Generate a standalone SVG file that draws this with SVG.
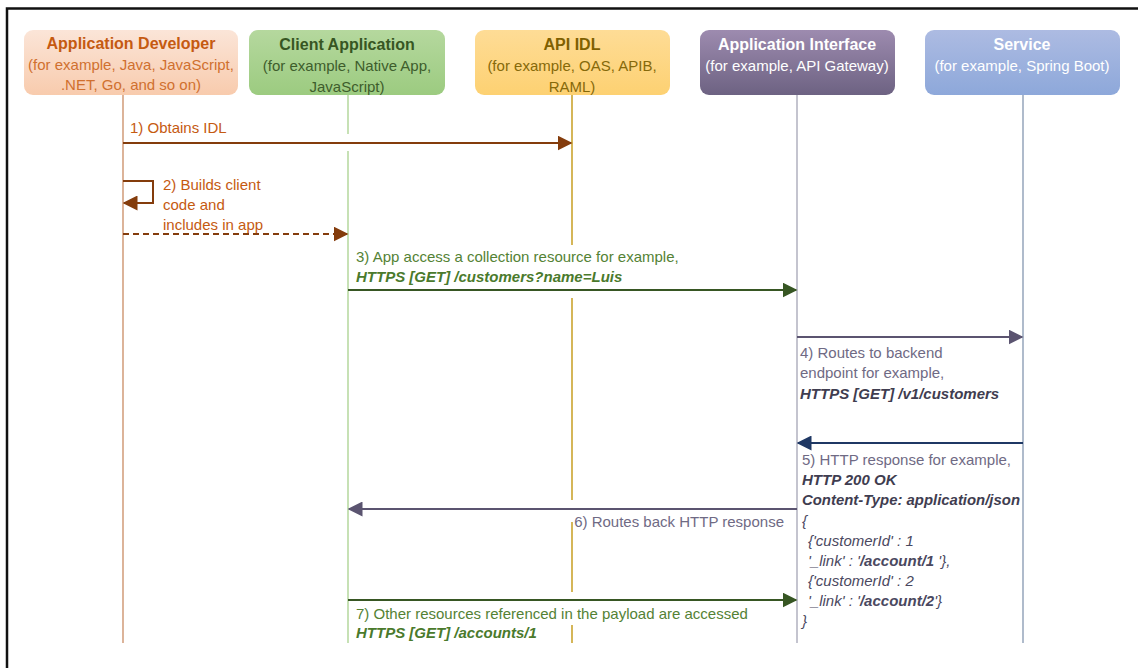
<svg xmlns="http://www.w3.org/2000/svg" width="1138" height="668" viewBox="0 0 1138 668">
<style>
text{font-family:"Liberation Sans",Arial,sans-serif;font-size:15px}
.t{font-weight:bold;font-size:16px}
.bi{font-weight:bold;font-style:italic}
.it{font-style:italic}
.ll{fill:none;stroke-width:1.3}
.ar{fill:none;stroke-width:2}
</style>
<defs>
<linearGradient id="gDev" x1="0" y1="0" x2="0" y2="1"><stop offset="0" stop-color="#fbe5d8"/><stop offset="1" stop-color="#f8cbad"/></linearGradient>
<linearGradient id="gCli" x1="0" y1="0" x2="0" y2="1"><stop offset="0" stop-color="#b5d89e"/><stop offset="1" stop-color="#9ccb80"/></linearGradient>
<linearGradient id="gIdl" x1="0" y1="0" x2="0" y2="1"><stop offset="0" stop-color="#fedc96"/><stop offset="1" stop-color="#fdd172"/></linearGradient>
<linearGradient id="gApi" x1="0" y1="0" x2="0" y2="1"><stop offset="0" stop-color="#9d8baf"/><stop offset="1" stop-color="#6d6282"/></linearGradient>
<linearGradient id="gSvc" x1="0" y1="0" x2="0" y2="1"><stop offset="0" stop-color="#adbbe2"/><stop offset="1" stop-color="#8da8da"/></linearGradient>
<marker id="mBrownL" viewBox="0 0 10 10" refX="9" refY="5" markerWidth="15" markerHeight="15" markerUnits="userSpaceOnUse" orient="auto"><path d="M0,0 L10,5 L0,10 z" fill="#843c0c"/></marker>
<marker id="mGreen" viewBox="0 0 10 10" refX="9" refY="5" markerWidth="15" markerHeight="15" markerUnits="userSpaceOnUse" orient="auto"><path d="M0,0 L10,5 L0,10 z" fill="#375623"/></marker>
<marker id="mPurple" viewBox="0 0 10 10" refX="9" refY="5" markerWidth="15" markerHeight="15" markerUnits="userSpaceOnUse" orient="auto"><path d="M0,0 L10,5 L0,10 z" fill="#5b5470"/></marker>
<marker id="mNavy" viewBox="0 0 10 10" refX="9" refY="5" markerWidth="15" markerHeight="15" markerUnits="userSpaceOnUse" orient="auto"><path d="M0,0 L10,5 L0,10 z" fill="#1f3864"/></marker>
</defs>
<rect x="0" y="0" width="1138" height="668" fill="#ffffff"/>
<path d="M7,668 V8.5 H1138" fill="none" stroke="#111111" stroke-width="2.5"/>

<g id="lifelines">
<path class="ll" stroke="#c98b63" d="M123,95 V643"/>
<path class="ll" stroke="#a9d18e" d="M348,95 V134 M348,151 V643"/>
<path class="ll" stroke="#bf9000" d="M572,95 V245 M572,298 V500 M572,522 V592 M572,625 V643"/>
<path class="ll" stroke="#a5a5b5" d="M797,95 V643"/>
<path class="ll" stroke="#8497b0" d="M1023,95 V643"/>
</g>

<g id="node-dev">
<rect x="24" y="30" width="214" height="65" rx="9" fill="url(#gDev)"/>
<text x="131" y="49" text-anchor="middle" class="t" fill="#c55a11">Application Developer</text>
<text x="131" y="70" text-anchor="middle" fill="#d0702f">(for example, Java, JavaScript,</text>
<text x="131" y="90" text-anchor="middle" fill="#d0702f">.NET, Go, and so on)</text>
</g>
<g id="node-client">
<rect x="249" y="30" width="196" height="65" rx="9" fill="url(#gCli)"/>
<text x="347" y="50" text-anchor="middle" class="t" fill="#375623">Client Application</text>
<text x="347" y="71" text-anchor="middle" fill="#3e5d2c">(for example, Native App,</text>
<text x="347" y="92" text-anchor="middle" fill="#3e5d2c">JavaScript)</text>
</g>
<g id="node-idl">
<rect x="475" y="30" width="195" height="65" rx="9" fill="url(#gIdl)"/>
<text x="572" y="50" text-anchor="middle" class="t" fill="#7f6000">API IDL</text>
<text x="572" y="71" text-anchor="middle" fill="#86690a">(for example, OAS, APIB,</text>
<text x="572" y="92" text-anchor="middle" fill="#86690a">RAML)</text>
</g>
<g id="node-api">
<rect x="700" y="30" width="195" height="65" rx="9" fill="url(#gApi)"/>
<text x="797" y="50" text-anchor="middle" class="t" fill="#ffffff">Application Interface</text>
<text x="797" y="71" text-anchor="middle" fill="#ffffff">(for example, API Gateway)</text>
</g>
<g id="node-service">
<rect x="925" y="30" width="195" height="65" rx="9" fill="url(#gSvc)"/>
<text x="1022" y="50" text-anchor="middle" class="t" fill="#ffffff">Service</text>
<text x="1022" y="71" text-anchor="middle" fill="#ffffff">(for example, Spring Boot)</text>
</g>

<g id="connectors">
<path class="ar" stroke="#843c0c" d="M123,143 H571" marker-end="url(#mBrownL)"/>
<path class="ar" stroke="#843c0c" stroke-width="2.5" d="M123,181 H153 V203 H124" marker-end="url(#mBrownL)"/>
<path class="ar" stroke="#843c0c" stroke-dasharray="6,4" d="M123,234 H347" marker-end="url(#mBrownL)"/>
<path class="ar" stroke="#375623" d="M348,290 H796" marker-end="url(#mGreen)"/>
<path class="ar" stroke="#5b5470" d="M797,337 H1022" marker-end="url(#mPurple)"/>
<path class="ar" stroke="#1f3864" d="M1023,443 H798" marker-end="url(#mNavy)"/>
<path class="ar" stroke="#5b5470" d="M797,509 H349" marker-end="url(#mPurple)"/>
<path class="ar" stroke="#375623" stroke-width="2.5" d="M348,600 H796" marker-end="url(#mGreen)"/>
</g>

<g id="labels">
<text x="130" y="133" fill="#c55a11">1) Obtains IDL</text>
<text x="163" y="190" fill="#c55a11">2) Builds client</text>
<text x="163" y="210" fill="#c55a11">code and</text>
<text x="163" y="230" fill="#c55a11">includes in app</text>
<text x="356" y="262" fill="#548235">3) App access a collection resource for example,</text>
<text x="356" y="282" class="bi" fill="#4a7a2c">HTTPS [GET] /customers?name=Luis</text>
<text x="800" y="358" fill="#6f6a84">4) Routes to backend</text>
<text x="800" y="378" fill="#6f6a84">endpoint for example,</text>
<text x="800" y="399" class="bi" fill="#3f3d50">HTTPS [GET] /v1/customers</text>
<text x="802" y="465" fill="#6f6a84">5) HTTP response for example,</text>
<text x="802" y="485" class="bi" fill="#3f3d50">HTTP 200 OK</text>
<text x="802" y="505" class="bi" fill="#3f3d50" textLength="218" lengthAdjust="spacingAndGlyphs">Content-Type: application/json</text>
<text x="802" y="526" class="it" fill="#4a4860">{</text>
<text x="808" y="546" class="it" fill="#4a4860">{'customerId' : 1</text>
<text x="808" y="566" class="it" fill="#4a4860">'_link' : '<tspan font-weight="bold">/account/1</tspan> '},</text>
<text x="808" y="586" class="it" fill="#4a4860">{'customerId' : 2</text>
<text x="808" y="606" class="it" fill="#4a4860">'_link' : '<tspan font-weight="bold">/account/2</tspan>'}</text>
<text x="802" y="626" class="it" fill="#4a4860">}</text>
<text x="784" y="527" text-anchor="end" fill="#6f6a84">6) Routes back HTTP response</text>
<text x="356" y="619" fill="#548235">7) Other resources referenced in the payload are accessed</text>
<text x="356" y="638" class="bi" fill="#4a7a2c">HTTPS [GET] /accounts/1</text>
</g>
</svg>
